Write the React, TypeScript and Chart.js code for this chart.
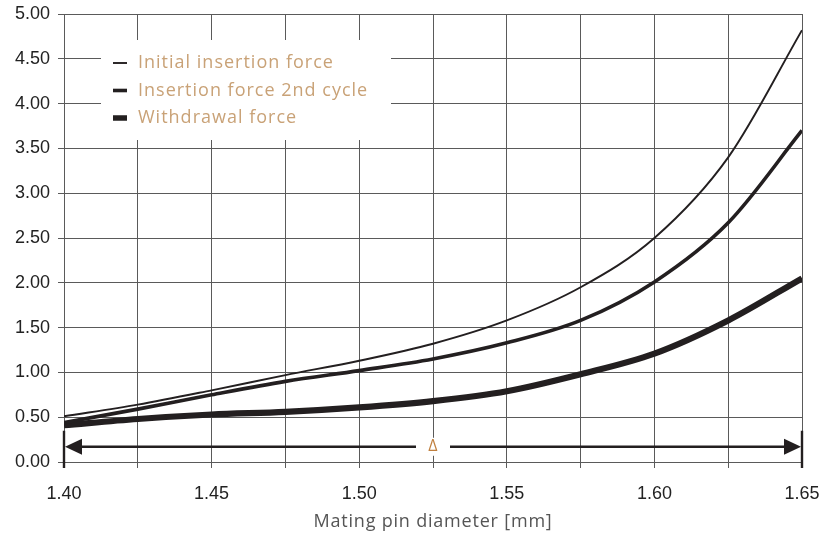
import React, { useEffect, useRef } from "react";
import { Chart, registerables } from "chart.js";

Chart.register(...registerables);

const diameters = [1.4, 1.425, 1.45, 1.475, 1.5, 1.525, 1.55, 1.575, 1.6, 1.625, 1.65];
const initialInsertion = [0.51, 0.64, 0.8, 0.97, 1.13, 1.32, 1.58, 1.95, 2.5, 3.4, 4.82];
const insertion2nd = [0.44, 0.59, 0.75, 0.9, 1.02, 1.15, 1.33, 1.58, 2.01, 2.67, 3.7];
const withdrawal = [0.41, 0.48, 0.53, 0.56, 0.61, 0.68, 0.79, 0.98, 1.21, 1.58, 2.05];
const seriesNames = ["Initial insertion force", "Insertion force 2nd cycle", "Withdrawal force"];
const seriesWidths = [1.9, 3.6, 6.2];
const xTitle = "Mating pin diameter [mm]";
const deltaLabel = "Δ";
const deltaRange = [1.4, 1.65];
const deltaY = 0.17;
const deltaBarTop = 0.35;

const LINE = "#231f20";
const GRID = "#5a5a5a";
const TAN = "#c9a277";
const FONT = "'Liberation Sans', Arial, sans-serif";
const TFONT = "'Open Sans', 'DejaVu Sans', sans-serif";

const overlayPlugin = {
  id: "overlay",
  beforeDatasetsDraw(chart: any) {
    const { ctx, chartArea } = chart;
    ctx.save();
    const lx = chartArea.left + 37;
    const ly = chartArea.top + 26;
    ctx.fillStyle = "#fff";
    ctx.fillRect(lx, ly, 290, 100);
    ctx.font = "18px " + TFONT;
    (ctx as any).letterSpacing = "1px";
    ctx.textBaseline = "middle";
    seriesNames.forEach((name, i) => {
      const y = ly + 23 + i * 27.5;
      ctx.fillStyle = LINE;
      const h = Math.min(seriesWidths[i], 5.5);
      ctx.fillRect(lx + 12, y - h / 2, 14, h);
      ctx.fillStyle = TAN;
      ctx.fillText(name, lx + 37, y);
    });
    ctx.restore();
  },
  afterDatasetsDraw(chart: any) {
    const { ctx, scales, chartArea } = chart;
    const xs = scales.x;
    const ys = scales.y;
    const x1 = xs.getPixelForValue(deltaRange[0]);
    const x2 = xs.getPixelForValue(deltaRange[1]);
    const xm = xs.getPixelForValue((deltaRange[0] + deltaRange[1]) / 2);
    const y = ys.getPixelForValue(deltaY);
    const yb0 = ys.getPixelForValue(0) + 6;
    const yb1 = ys.getPixelForValue(deltaBarTop);
    ctx.save();
    ctx.fillStyle = "#fff";
    ctx.fillRect(xm - 14, y - 9, 28, 18);
    ctx.strokeStyle = LINE;
    ctx.fillStyle = LINE;
    ctx.lineWidth = 2.6;
    ctx.beginPath();
    ctx.moveTo(x1 + 10, y);
    ctx.lineTo(xm - 17, y);
    ctx.moveTo(xm + 17, y);
    ctx.lineTo(x2 - 10, y);
    ctx.stroke();
    ctx.lineWidth = 2.4;
    ctx.beginPath();
    ctx.moveTo(x1, yb0);
    ctx.lineTo(x1, yb1);
    ctx.moveTo(x2, yb0);
    ctx.lineTo(x2, yb1);
    ctx.stroke();
    const al = 17;
    const ah = 8;
    ctx.beginPath();
    ctx.moveTo(x1 + 1, y);
    ctx.lineTo(x1 + 1 + al, y - ah);
    ctx.lineTo(x1 + 1 + al, y + ah);
    ctx.closePath();
    ctx.fill();
    ctx.beginPath();
    ctx.moveTo(x2 - 1, y);
    ctx.lineTo(x2 - 1 - al, y - ah);
    ctx.lineTo(x2 - 1 - al, y + ah);
    ctx.closePath();
    ctx.fill();
    ctx.fillStyle = "#c0803f";
    ctx.font = "16px " + TFONT;
    ctx.textAlign = "center";
    ctx.textBaseline = "middle";
    ctx.fillText(deltaLabel, xm, y);
    ctx.fillStyle = "#555";
    ctx.font = "18px " + TFONT;
    (ctx as any).letterSpacing = "0.8px";
    ctx.textAlign = "center";
    ctx.textBaseline = "middle";
    ctx.fillText(xTitle, (chartArea.left + chartArea.right) / 2, 522);
    ctx.restore();
  },
};

export default function App() {
  const ref = useRef<HTMLCanvasElement | null>(null);
  useEffect(() => {
    document.body.style.margin = "0";
    const canvas = ref.current;
    if (!canvas) return;
    const series = [initialInsertion, insertion2nd, withdrawal];
    const chart = new Chart(canvas, {
      type: "line",
      data: {
        datasets: series.map((vals, i) => ({
          label: seriesNames[i],
          data: diameters.map((d, j) => ({ x: d, y: vals[j] })),
          borderColor: LINE,
          backgroundColor: LINE,
          borderWidth: seriesWidths[i],
          pointRadius: 0,
          fill: false,
          cubicInterpolationMode: "monotone" as const,
        })),
      },
      options: {
        responsive: false,
        animation: false,
        layout: { padding: { top: 14, right: 36, left: 0, bottom: 0 } },
        plugins: { legend: { display: false }, tooltip: { enabled: false } },
        scales: {
          x: {
            type: "linear",
            min: 1.4,
            max: 1.65,
            afterFit: (s: any) => {
              s.height = 75;
            },
            ticks: {
              stepSize: 0.025,
              autoSkip: false,
              maxRotation: 0,
              padding: 15,
              color: "#222",
              font: { family: FONT, size: 18 },
              callback: (v: any) => {
                const n = Math.round(Number(v) * 1000);
                return n % 50 === 0 ? (n / 1000).toFixed(2) : "";
              },
            },
            grid: { color: GRID, lineWidth: 1, tickLength: 6 },
            border: { color: GRID, width: 1 },
          },
          y: {
            min: 0,
            max: 5,
            afterFit: (s: any) => {
              s.width = 64;
              s.paddingTop = 0;
              s.paddingBottom = 0;
            },
            ticks: {
              stepSize: 0.5,
              padding: 8,
              color: "#222",
              font: { family: FONT, size: 18, lineHeight: 0.8 },
              callback: (v: any) => Number(v).toFixed(2),
            },
            grid: { color: GRID, lineWidth: 1, tickLength: 6 },
            border: { color: GRID, width: 1 },
          },
        },
      },
      plugins: [overlayPlugin],
    });
    return () => chart.destroy();
  }, []);
  return (
    <div style={{ width: 838, height: 537, background: "#fff" }}>
      <canvas ref={ref} width={838} height={537} />
    </div>
  );
}
